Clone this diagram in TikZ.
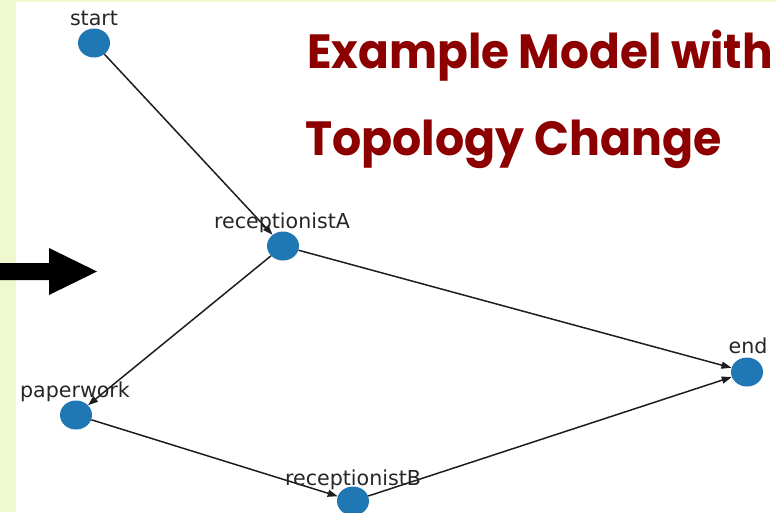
\documentclass[tikz,border=0pt]{standalone}
\usepackage{fontspec}
\setmainfont{DejaVu Sans}
\newfontfamily\titlefont{Poppins}
\usetikzlibrary{shapes.geometric,arrows.meta}
\definecolor{nodeblue}{HTML}{1F77B4}
\definecolor{stripgreen}{RGB}{240,248,208}
\definecolor{titlered}{RGB}{140,0,0}
\definecolor{edgegray}{RGB}{30,30,30}
\tikzset{
  gnode/.style={ellipse, fill=nodeblue, minimum width=32pt, minimum height=29pt, inner sep=0pt},
  glabel/.style={anchor=base, font=\fontsize{20.6}{24}\selectfont, text=black!85, inner sep=0pt},
  gedge/.style={draw=edgegray, line width=1.5pt, -{Triangle[length=10pt,width=7pt]}},
  titletext/.style={anchor=base west, inner sep=0pt, text=titlered, font=\titlefont\bfseries\fontsize{48}{56}\selectfont}
}
\begin{document}
\begin{tikzpicture}[x=1pt,y=-1pt]
\useasboundingbox (0,0) rectangle (776,512);
\fill[white] (0,0) rectangle (776,512);
\fill[stripgreen] (0,0) rectangle (16,512);
\fill[stripgreen] (0,0) rectangle (776,2);
% title
\node[titletext] (t1) at (307,68) {\scalebox{0.945}[1]{Example Model with}};
\node[titletext] (t2) at (305,155) {\scalebox{0.955}[1]{Topology Change}};
% big arrow
\fill[black] (0,263) -- (49,263) -- (49,248) -- (97,271.5) -- (49,295) -- (49,280) -- (0,280) -- cycle;
% nodes
\node[gnode] (start) at (94,43) {};
\node[gnode] (recA) at (283,246) {};
\node[gnode] (end) at (747,372) {};
\node[gnode] (paper) at (76,415) {};
\node[gnode] (recB) at (353,501) {};
% edges
\draw[gedge] (start) -- (recA);
\draw[gedge] (recA) -- (paper);
\draw[gedge] (recA) -- (end);
\draw[gedge] (paper) -- (recB);
\draw[gedge] (recB) -- (end);
% labels
\node[glabel] (lstart) at (94,25) {start};
\node[glabel] (lrecA) at (282,228) {receptionistA};
\node[glabel] (lend) at (748,353) {end};
\node[glabel] (lpaper) at (75,397) {paperwork};
\node[glabel] (lrecB) at (353,485) {receptionistB};
\end{tikzpicture}
\end{document}
